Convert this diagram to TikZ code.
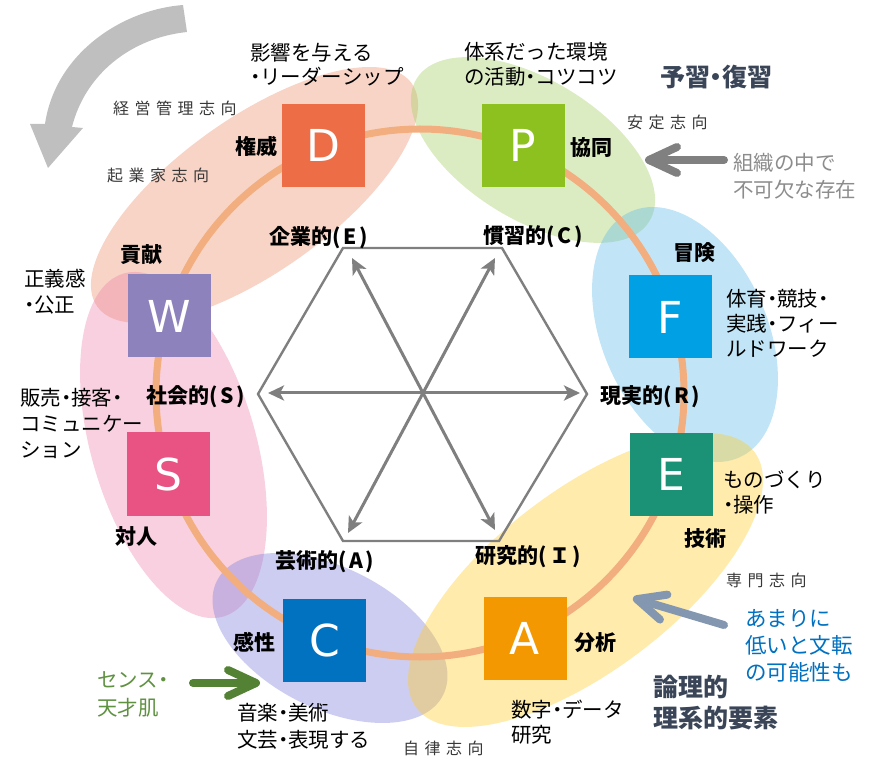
\documentclass[tikz,border=0pt]{standalone}
\usepackage{fontspec}
\setmainfont{Noto Sans CJK JP}
\newfontfamily\lat{DejaVu Sans}
\usetikzlibrary{arrows.meta}
\newcommand\dt{\makebox[0.5em][c]{・}}
\ExplSyntaxOn
\NewDocumentCommand\spaced{m}{\tl_map_inline:nn {#1} {##1\hspace{5.5pt}}}
\ExplSyntaxOff
\definecolor{cD}{HTML}{EC6D46}
\definecolor{cP}{HTML}{8CC11F}
\definecolor{cF}{HTML}{00A1E4}
\definecolor{cE}{HTML}{1B9276}
\definecolor{cA}{HTML}{F39800}
\definecolor{cC}{HTML}{0072C0}
\definecolor{cS}{HTML}{E95383}
\definecolor{cW}{HTML}{8E82BC}
\definecolor{ringc}{HTML}{F2AE7E}
\definecolor{eSal}{RGB}{240,160,130}
\definecolor{eGrn}{RGB}{170,210,110}
\definecolor{eBlu}{RGB}{100,190,235}
\definecolor{ePnk}{RGB}{235,120,165}
\definecolor{ePur}{RGB}{130,130,220}
\definecolor{eYel}{RGB}{255,205,45}
\definecolor{hexgray}{HTML}{7F7F7F}
\definecolor{bigarrow}{HTML}{BFBFBF}
\definecolor{grayarrow}{HTML}{808080}
\definecolor{greenarrow}{HTML}{548235}
\definecolor{greentext}{HTML}{5E9140}
\definecolor{bluegray}{HTML}{8497B0}
\definecolor{bluetext}{HTML}{0070C0}
\definecolor{slatec}{HTML}{3A4658}
\definecolor{graytext}{HTML}{8C8C8C}
\tikzset{
  sqr/.style={minimum size=83pt, inner sep=0pt, outer sep=0pt, text=white, font=\lat\fontsize{44}{44}\selectfont},
  trait/.style={font=\fontsize{21}{25}\selectfont\bfseries, inner sep=0pt},
  ttype/.style={font=\fontsize{21}{25}\selectfont\bfseries, inner sep=0pt},
  body/.style={font=\fontsize{20.5}{25}\selectfont, inner sep=0pt, align=left, anchor=west},
  orient/.style={font=\fontsize{16}{20}\selectfont, text=black!78, inner sep=0pt, anchor=west},
  chev/.style={line width=8pt, line cap=round, -{Straight Barb[length=28pt,width=26pt,round]}},
  hexarr/.style={draw=hexgray, line width=3pt, -{Stealth[length=16pt,width=15pt,inset=4pt]}},
  slate/.style={font=\fontsize{25}{31}\selectfont\bfseries, text=slatec, inner sep=0pt, align=left, anchor=west},
}
\begin{document}
\begin{tikzpicture}[x=1pt,y=1pt]
\useasboundingbox (0,0) rectangle (879,-759);
% big curved arrow
\fill[bigarrow] (183,-5) .. controls (120,-10) and (55,-55) .. (45,-124) -- (30,-124) -- (48,-168) -- (83,-128) -- (72,-127) .. controls (85,-75) and (130,-38) .. (187,-32) -- cycle;
% ellipses
\fill[eSal, opacity=0.45, rotate around={35.3:(254.5,-195)}] (254.5,-195) ellipse [x radius=192.8pt, y radius=77.2pt];
\fill[eGrn, opacity=0.42, rotate around={-31.4:(533,-150)}] (533,-150) ellipse [x radius=136.5pt, y radius=70pt];
\fill[eBlu, opacity=0.40, rotate around={-66.3:(685,-334.5)}] (685,-334.5) ellipse [x radius=134.4pt, y radius=82.6pt];
\fill[ePnk, opacity=0.35, rotate around={-73.8:(173.5,-445)}] (173.5,-445) ellipse [x radius=178.6pt, y radius=82.3pt];
\fill[ePur, opacity=0.40, rotate around={-26.8:(330,-638)}] (330,-638) ellipse [x radius=126.7pt, y radius=70.5pt];
\fill[eYel, opacity=0.40, rotate around={37.2:(585.5,-580)}] (585.5,-580) ellipse [x radius=212pt, y radius=90.2pt];
% ring
\node[circle, draw=ringc, line width=7pt, minimum size=528pt, inner sep=0pt] (ring) at (420,-393) {};
% squares
\node[sqr, fill=cD] (D) at (323.5,-145.5) {D};
\node[sqr, fill=cP] (P) at (523,-145.5) {P};
\node[sqr, fill=cW] (W) at (169.5,-316) {W};
\node[sqr, fill=cS] (S) at (168,-474) {S};
\node[sqr, fill=cF] (F) at (670.5,-317) {F};
\node[sqr, fill=cE] (E) at (671,-474.5) {E};
\node[sqr, fill=cC] (C) at (324.5,-640.5) {C};
\node[sqr, fill=cA] (A) at (525,-638.5) {A};
% hexagon
\coordinate (h1) at (587,-394);
\coordinate (h2) at (502,-248);
\coordinate (h3) at (343,-248);
\coordinate (h4) at (258,-394);
\coordinate (h5) at (343,-541);
\coordinate (h6) at (499,-541);
\draw[hexgray, line width=2.4pt, line join=miter] (h1) -- (h2) -- (h3) -- (h4) -- (h5) -- (h6) -- cycle;
\coordinate (O) at (423,-393);
\coordinate (t1) at (580,-393);
\coordinate (t2) at (495,-258);
\coordinate (t3) at (352,-258);
\coordinate (t4) at (268,-393);
\coordinate (t5) at (348,-533);
\coordinate (t6) at (495,-530);
\foreach \t in {t1,t2,t3,t4,t5,t6} \draw[hexarr] (O) -- (\t);
% type labels
\node[ttype] (lE) at (319,-238) {企業的(\hspace{0.12em}E\hspace{0.12em})};
\node[ttype] (lC) at (533,-237) {慣習的(\hspace{0.12em}C\hspace{0.12em})};
\node[ttype] (lS) at (196,-397) {社会的(\hspace{0.12em}S\hspace{0.12em})};
\node[ttype] (lR) at (650,-397) {現実的(\hspace{0.12em}R\hspace{0.12em})};
\node[ttype] (lA) at (325,-562) {芸術的(\hspace{0.12em}A\hspace{0.12em})};
\node[ttype] (lI) at (528,-557) {研究的(\hspace{0.1em}Ｉ\hspace{0.1em})};
% trait labels
\node[trait] (kD) at (256,-146) {権威};
\node[trait] (kP) at (591,-148) {協同};
\node[trait] (kW) at (141,-255) {貢献};
\node[trait] (kF) at (694,-253) {冒険};
\node[trait] (kS) at (136,-537) {対人};
\node[trait] (kC) at (254,-642) {感性};
\node[trait] (kE) at (705,-539) {技術};
\node[trait] (kA) at (595,-643) {分析};
% descriptions
\node[body, font=\fontsize{20.5}{24}\selectfont] (dD) at (250,-65) {影響を与える\\\dt リーダーシップ};
\node[body] (dP) at (464,-64.5) {体系だった環境\\の活動\dt コツコツ};
\node[body, font=\fontsize{20.5}{26}\selectfont] (dW) at (24,-292) {正義感\\\dt 公正};
\node[body, font=\fontsize{20.5}{26}\selectfont] (dS) at (20,-423) {販売\dt 接客\dt\\コミュニケー\\ション};
\node[body] (dF) at (726,-323) {体育\dt 競技\dt\\実践\dt フィー\\ルドワーク};
\node[body] (dE) at (723,-492.5) {ものづくり\\\dt 操作};
\node[body, font=\fontsize{20.5}{27}\selectfont] (dC) at (237,-726.5) {音楽\dt 美術\\文芸\dt 表現する};
\node[body] (dA) at (511,-722.5) {数字\dt データ\\研究};
% orientation labels
\node[orient] (o1) at (113,-108) {\spaced{経営管理志向}};
\node[orient] (o2) at (107,-175) {\spaced{起業家志向}};
\node[orient] (o3) at (627,-122) {\spaced{安定志向}};
\node[orient] (o4) at (726,-580) {\spaced{専門志向}};
\node[orient] (o5) at (403,-748) {\spaced{自律志向}};
% side notes
\node[body, text=graytext, font=\fontsize{20.5}{27}\selectfont] (nG) at (733,-176.5) {組織の中で\\不可欠な存在};
\node[body, text=greentext, font=\fontsize{20.5}{28}\selectfont] (nS) at (97,-694) {センス\dt\\天才肌};
\node[body, text=bluetext, font=\fontsize{21.5}{27}\selectfont] (nB) at (745,-645.5) {あまりに\\低いと文転\\の可能性も};
\node[slate] (s1) at (660,-77) {予習\dt 復習};
\node[slate] (s2) at (653,-702.5) {論理的\\理系的要素};
% pointer arrows
\coordinate (g1) at (724,-160);
\coordinate (g2) at (645,-160);
\draw[chev, draw=grayarrow] (g1) -- (g2);
\coordinate (r1) at (193,-683);
\coordinate (r2) at (260,-683);
\draw[chev, draw=greenarrow] (r1) -- (r2);
\coordinate (b1) at (724,-625);
\coordinate (b2) at (633,-598);
\draw[chev, draw=bluegray] (b1) -- (b2);
\end{tikzpicture}
\end{document}
